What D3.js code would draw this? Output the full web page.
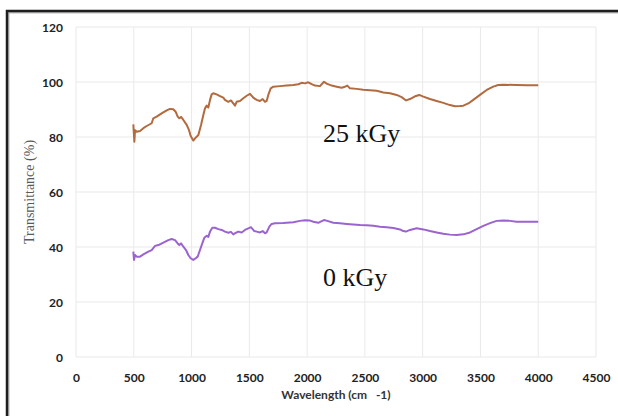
<!DOCTYPE html>
<html>
<head>
<meta charset="utf-8">
<script src="https://cdn.jsdelivr.net/npm/d3@7"></script>
<style>
html,body{margin:0;padding:0;background:#fff;}
svg{display:block;}
</style>
</head>
<body>
<svg id="chart" width="618" height="416"></svg>
<script>
const xTicks = [0,500,1000,1500,2000,2500,3000,3500,4000,4500];
const yTicks = [0,20,40,60,80,100,120];

const wave25 = [496,505,511,525,554,583,612,655,669,698,741,785,813,842,862,880,894,909,929,958,978,990,1001,1015,1030,1044,1059,1082,1102,1116,1131,1145,1160,1174,1188,1217,1246,1275,1289,1318,1341,1361,1376,1390,1419,1448,1477,1506,1534,1563,1592,1615,1636,1650,1664,1685,1708,1765,1823,1881,1924,1953,1982,2010,2040,2068,2111,2146,2169,2213,2256,2299,2328,2348,2371,2429,2486,2544,2602,2660,2717,2775,2818,2856,2890,2934,2971,3006,3063,3121,3179,3236,3280,3323,3352,3395,3438,3496,3554,3611,3654,3698,3813,3900,4000];
const trans25 = [84.6,78.3,82.5,81.9,82.2,83.2,84,85,86.8,87.4,88.6,89.7,90.2,90.1,89.2,87.4,86.8,87.3,86.2,84.4,82.5,80.7,79.7,78.7,79.5,80.1,80.7,84.4,88,90.4,91.4,90.7,93.5,95.5,95.9,95.5,94.9,94.3,93.5,92.8,93.3,92.2,91.4,92.8,93.1,94.1,95,95.7,94.3,93.5,93.1,93.8,92.8,93.1,95.3,97.7,98.3,98.5,98.7,98.9,99.2,99.7,99.5,99.9,99.2,98.7,98.5,100.1,99.4,98.7,98.3,97.9,98.3,98.7,97.7,97.5,97.2,97,96.8,96.2,95.9,95.3,94.5,93.3,93.8,94.8,95.3,94.7,93.8,93.1,92.4,91.6,91.2,91.3,91.4,92.2,93.5,95.3,97.1,98.3,98.9,99,98.9,98.8,98.8];

const wave0 = [496,502,511,525,554,583,626,655,684,713,756,799,828,857,880,894,909,929,952,972,992,1015,1036,1053,1073,1093,1111,1131,1145,1160,1180,1203,1232,1261,1289,1318,1341,1361,1376,1405,1434,1462,1491,1514,1543,1563,1592,1615,1636,1650,1673,1693,1722,1794,1881,1938,1982,2025,2054,2097,2117,2146,2175,2227,2285,2342,2400,2458,2515,2573,2631,2689,2746,2804,2832,2856,2890,2948,3006,3063,3121,3179,3236,3294,3352,3410,3467,3525,3583,3640,3698,3756,3813,3900,4000];
const trans0 = [38.3,35.3,37.1,36.5,36.5,37.3,38.3,38.9,40.4,40.7,41.6,42.5,42.9,42.5,41.3,40.7,41.3,40.1,38.9,37.1,35.9,35.3,35.9,36.5,38.9,41.3,43.4,44.1,43.7,45.6,47,47,46.5,46.2,45.6,45.2,45.5,44.6,45,45.6,45.3,46.2,46.8,47.2,45.8,45.6,45.3,45.8,45,45.3,47.4,48.4,48.6,48.7,49,49.5,49.7,49.6,49.2,48.8,49.2,49.8,49.5,48.8,48.6,48.4,48.2,48,47.9,47.7,47.4,47.2,46.9,46.4,45.8,45.6,46.2,46.8,46.4,45.8,45.3,44.8,44.5,44.4,44.6,45.3,46.5,47.7,48.7,49.5,49.6,49.5,49.2,49.2,49.2];

const seriesNames = ["25 kGy","0 kGy"];

const svg = d3.select("#chart");
const pL = 76, pR = 596, pT = 27, pB = 357;

const x = d3.scaleLinear().domain([0,4500]).range([pL,pR]);
const y = d3.scaleLinear().domain([0,120]).range([pB,pT]);

// frame
svg.append("rect").attr("x",8).attr("y",12).attr("width",640).attr("height",440)
  .attr("fill","none").attr("stroke","#bbb").attr("stroke-width",3);
svg.append("rect").attr("x",7).attr("y",11).attr("width",640).attr("height",440)
  .attr("fill","none").attr("stroke","#1e1e1e").attr("stroke-width",2.5);

// grid
const g = svg.append("g");
g.selectAll("line.h").data(yTicks).join("line")
  .attr("x1",pL).attr("x2",pR).attr("y1",d=>y(d)).attr("y2",d=>y(d))
  .attr("stroke","#e9e9e9").attr("stroke-width",1);
g.selectAll("line.v").data(xTicks).join("line")
  .attr("y1",pT).attr("y2",pB).attr("x1",d=>x(d)).attr("x2",d=>x(d))
  .attr("stroke","#e9e9e9").attr("stroke-width",1);

// axes via d3 axis, lines hidden
const xAxis = svg.append("g").attr("transform",`translate(0,${pB+25})`)
  .call(d3.axisBottom(x).tickValues(xTicks).tickSize(0).tickPadding(0).tickFormat(d3.format("d")));
xAxis.select(".domain").remove();
xAxis.selectAll("text").attr("dy","0").attr("font-family","Lato, 'Open Sans', sans-serif")
  .attr("font-weight","bold").attr("font-size","12px").attr("fill","#222");

const yAxis = svg.append("g").attr("transform",`translate(${pL-13},0)`)
  .call(d3.axisLeft(y).tickValues(yTicks).tickSize(0).tickPadding(0));
yAxis.select(".domain").remove();
yAxis.selectAll("text").attr("font-family","Lato, 'Open Sans', sans-serif")
  .attr("font-weight","bold").attr("font-size","12px").attr("fill","#222").attr("dy","0.35em");

// axis titles
svg.append("text").attr("x",336).attr("y",398.5).attr("text-anchor","middle")
  .attr("font-family","Lato, 'Open Sans', sans-serif").attr("font-weight","bold")
  .attr("font-size","12px").attr("fill","#333").attr("xml:space","preserve")
  .text("Wavelength (cm   -1)");
svg.append("text").attr("transform","translate(34,192) rotate(-90)").attr("text-anchor","middle")
  .attr("font-family","'Liberation Serif', 'DejaVu Serif', serif")
  .attr("font-size","14px").attr("fill","#5a5a5a").text("Transmittance (%)");

// lines
const line = d3.line().x(d=>x(d[0])).y(d=>y(d[1]));
const d25 = wave25.map((w,i)=>[w,trans25[i]]);
const d0 = wave0.map((w,i)=>[w,trans0[i]]);
svg.append("path").attr("d",line(d25)).attr("fill","none").attr("stroke","#b26a3e")
  .attr("stroke-width",2).attr("stroke-linejoin","round");
svg.append("path").attr("d",line(d0)).attr("fill","none").attr("stroke","#9a63cf")
  .attr("stroke-width",2).attr("stroke-linejoin","round");

// annotations
svg.append("text").attr("x",323).attr("y",142).attr("font-family","'Liberation Serif', serif")
  .attr("font-size","26px").attr("fill","#111").text(seriesNames[0]);
svg.append("text").attr("x",323).attr("y",286).attr("font-family","'Liberation Serif', serif")
  .attr("font-size","26px").attr("fill","#111").text(seriesNames[1]);
</script>
</body>
</html>
